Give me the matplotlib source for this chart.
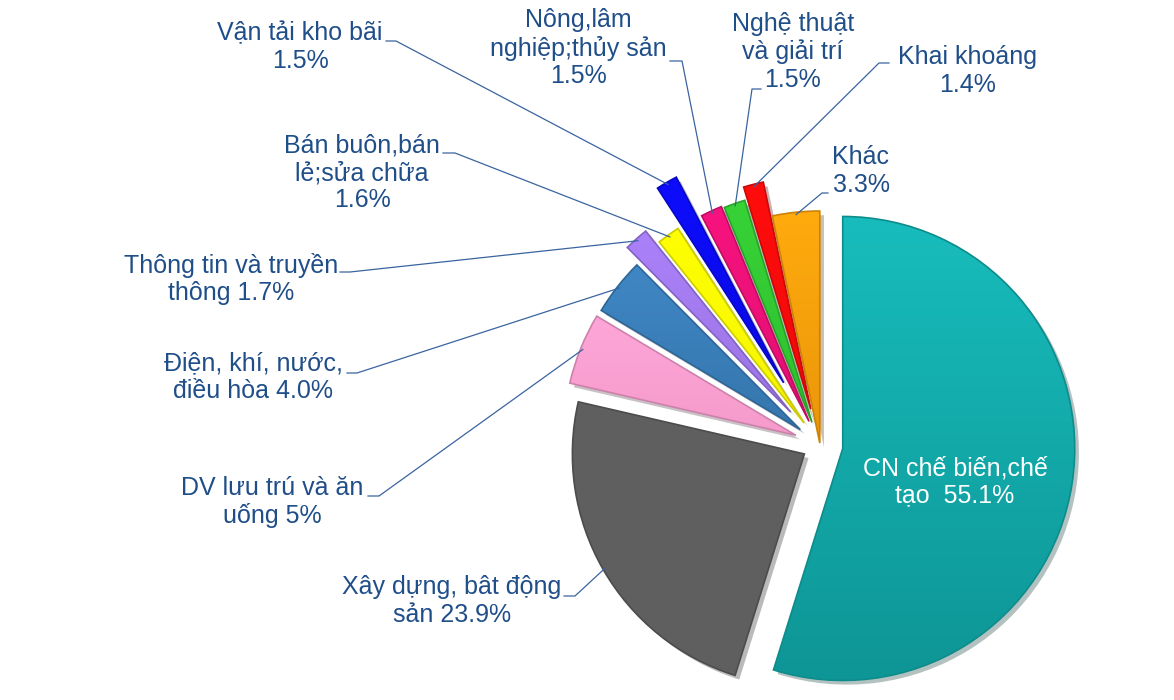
import numpy as np
import matplotlib.pyplot as plt
from matplotlib import patheffects as pe
from matplotlib.colors import to_rgb
from matplotlib.patches import Wedge

W, H = 1174, 700

# data: share of each sector (%), clockwise from 12 o'clock
labels = ["CN chế biến,chế\ntạo  55.1%",
          "Xây dựng, bât động\nsản 23.9%",
          "DV lưu trú và ăn\nuống 5%",
          "Điện, khí, nước,\nđiều hòa 4.0%",
          "Thông tin và truyền\nthông 1.7%",
          "Bán buôn,bán\nlẻ;sửa chữa\n1.6%",
          "Vận tải kho bãi\n1.5%",
          "Nông,lâm\nnghiệp;thủy sản\n1.5%",
          "Nghệ thuật\nvà giải trí\n1.5%",
          "Khai khoáng\n1.4%",
          "Khác\n3.3%"]
shares = [55.1, 23.9, 5.0, 4.0, 1.7, 1.6, 1.5, 1.5, 1.5, 1.4, 3.3]

colors = ['#11AEAE', '#5F5F5F', '#FFA2D4', '#3A80BC', '#A57CF2', '#FFFF00',
          '#0A0AF5', '#F0107A', '#33CC33', '#FF0A0A', '#FFA30A']
shade = [0.14, 0.0, 0.04, 0.08, 0.06, 0.04, 0.06, 0.06, 0.06, 0.06, 0.08]
explode_px = [23, 18, 26, 25, 44, 27, 72, 26, 24, 37, 2]

# label block centres and leader elbows (pixels from top-left)
label_xy = [(955, 482), (452, 601), (272, 502), (253, 377), (231, 279), (362, 173),
            (300, 47), (578, 48), (793, 52), (968, 71), (861, 171)]
leader_start = [None, (564, 596), (368, 496), (347, 373), (340, 272), (443, 153),
                (386, 41), (670, 61), (761, 89), (889, 63), (828, 193)]
leader_elbow = [None, (575, 596), (379, 496), (357, 373), (350, 272), (455, 153),
                (396, 41), (682, 61), (752, 89), (879, 63), (822, 193)]

txt_color = '#1F4E89'
line_color = '#3A64A0'
font = ['Liberation Sans', 'DejaVu Sans']

fig = plt.figure(figsize=(W / 100, H / 100), dpi=100)
ax = fig.add_axes([0, 0, 1, 1])

radius = 232
wedges, _ = ax.pie(shares, colors=colors, explode=explode_px, startangle=90,
                   counterclock=False, radius=radius, center=(820, H - 445),
                   wedgeprops=dict(linewidth=0))

for w, c, s in zip(wedges, colors, shade):
    base = np.array(to_rgb(c))
    w.set_path_effects([pe.SimplePatchShadow(offset=(3, -3), alpha=0.3), pe.Normal()])
    # soft vertical shading, lighter at the top
    ext = w.get_path().get_extents()
    t = np.linspace(0, 1, 64)[:, None]
    top = np.clip(base * (1 + s / 3) + s / 6, 0, 1)
    bot = base * (1 - s)
    grad = (top[None, None, :] * (1 - t[..., None]) + bot[None, None, :] * t[..., None])
    im = ax.imshow(grad, extent=[ext.x0, ext.x1, ext.y0, ext.y1], origin='upper',
                   aspect='auto', zorder=w.get_zorder() + 0.1, interpolation='bilinear')
    im.set_clip_path(w)
    # bevel edge
    edge = Wedge(w.center, w.r, w.theta1, w.theta2, facecolor='none',
                 edgecolor=tuple(base * 0.8), linewidth=1.2, zorder=w.get_zorder() + 0.2)
    ax.add_patch(edge)

for i, w in enumerate(wedges):
    lx, ly = label_xy[i]
    col = 'white' if i == 0 else txt_color
    ax.text(lx, H - ly, labels[i], ha='center', va='center', multialignment='center',
            fontsize=18, color=col, family=font, linespacing=1.17, zorder=5)
    if leader_start[i] is None:
        continue
    mid = np.deg2rad((w.theta1 + w.theta2) / 2)
    ex = w.center[0] + w.r * 0.99 * np.cos(mid)
    ey = w.center[1] + w.r * 0.99 * np.sin(mid)
    sx, sy = leader_start[i]
    bx, by = leader_elbow[i]
    ax.plot([sx, bx, ex], [H - sy, H - by, ey], color=line_color, lw=0.9, zorder=4)

ax.set_xlim(0, W)
ax.set_ylim(0, H)
ax.set_aspect('auto')
ax.axis('off')

fig.savefig('out.png', dpi=100, facecolor='white')
